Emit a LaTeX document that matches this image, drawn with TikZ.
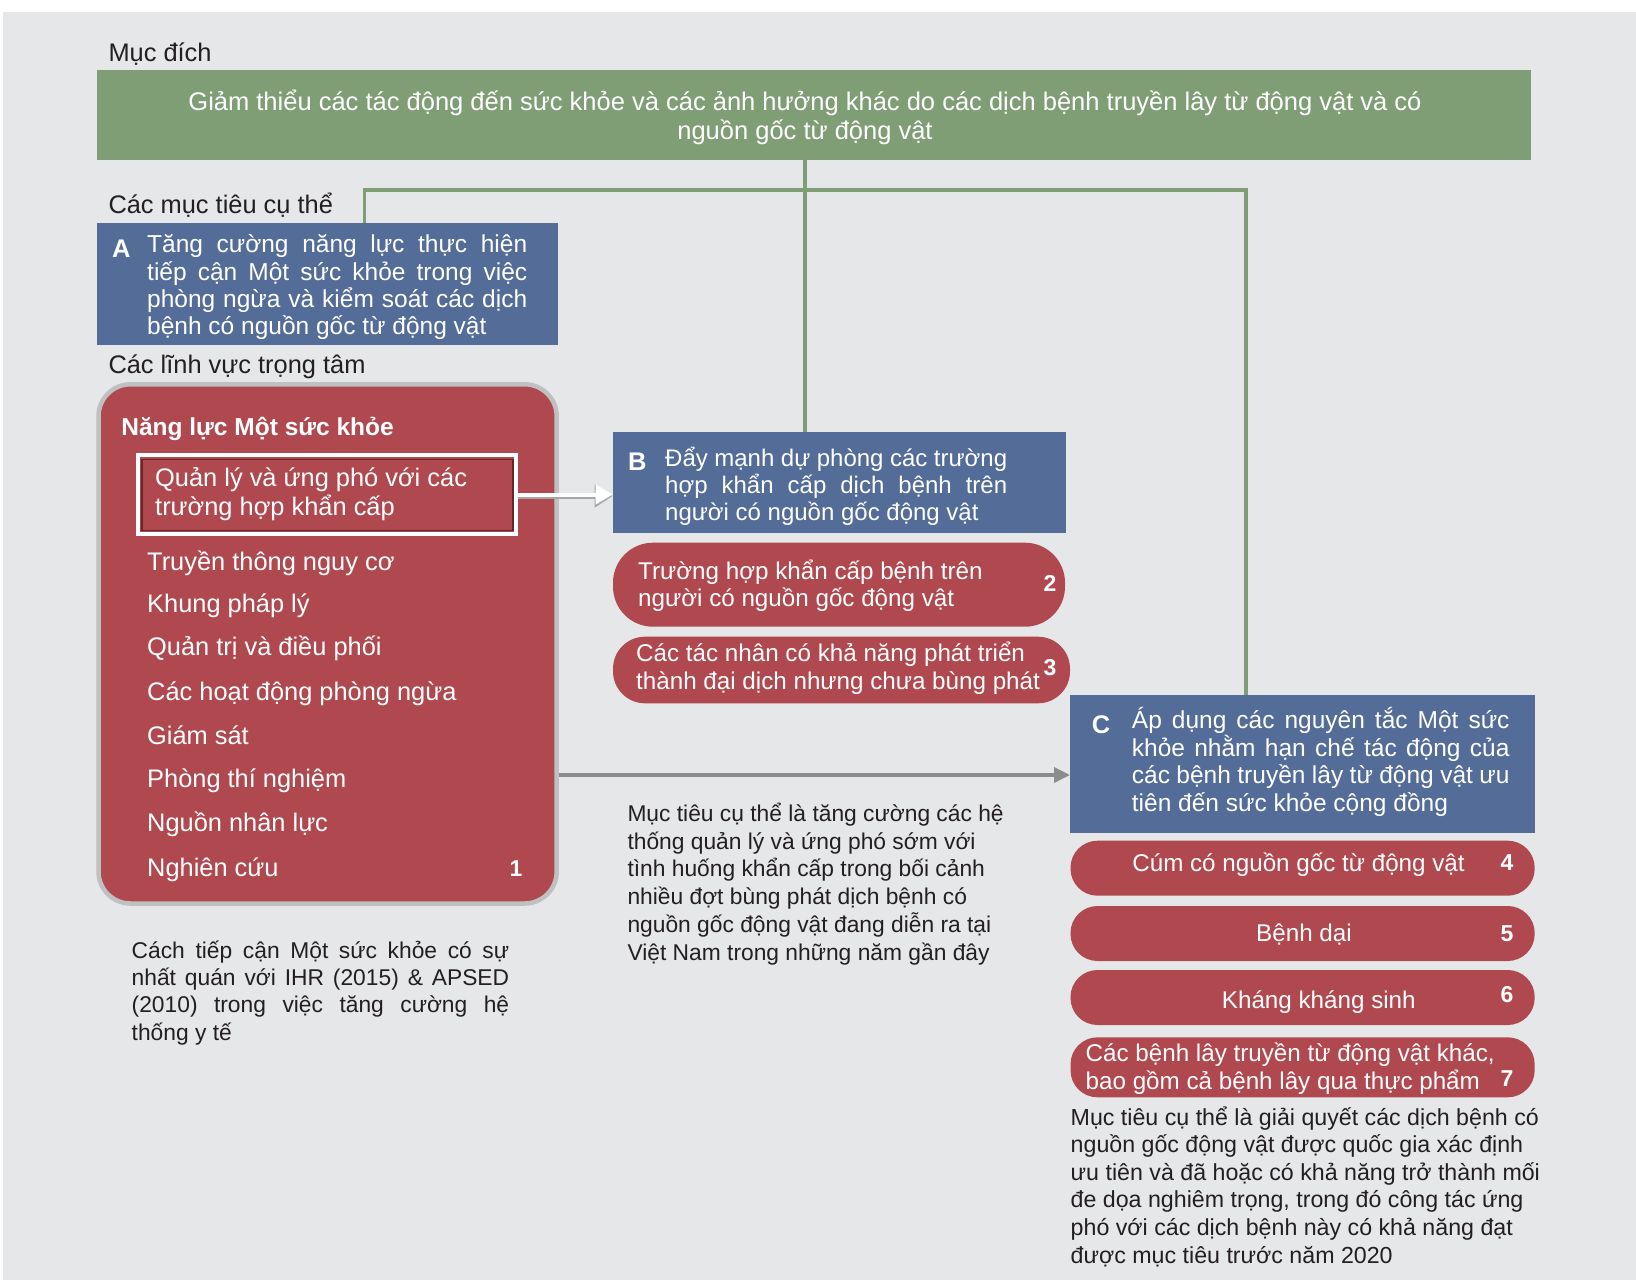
\documentclass[tikz,border=0pt]{standalone}
\usepackage{fontspec}
\setmainfont{Liberation Sans}
\usetikzlibrary{arrows.meta}
\definecolor{bgc}{HTML}{E6E7E9}
\definecolor{grn}{HTML}{7F9E75}
\definecolor{blu}{HTML}{546D98}
\definecolor{rd}{HTML}{B0494F}
\definecolor{outl}{HTML}{BFC0C2}
\definecolor{ink}{HTML}{231F20}
\definecolor{garr}{HTML}{8C8C8C}
\newcommand\fmain{\fontsize{24.5}{27.5}\selectfont}
\newcommand\flist{\fontsize{25.4}{28}\selectfont}
\newcommand\fpill{\fontsize{24.2}{27}\selectfont}
\newcommand\fnote{\fontsize{22.8}{27.6}\selectfont}
\newcommand\jl[2]{\makebox[#1][s]{#2}}
\tikzset{
  box/.style={anchor=north west, inner sep=0pt, outer sep=0pt, draw=none},
  lbl/.style={anchor=base west, inner sep=0pt, text=ink, font=\flist},
  wtxt/.style={anchor=base west, inner sep=0pt, text=white, font=\fmain},
  ltxt/.style={wtxt, font=\flist},
  ptxt/.style={wtxt, font=\fpill},
  num/.style={anchor=base, inner sep=0pt, text=white, font=\fontsize{23}{27}\selectfont\bfseries},
  letter/.style={anchor=base west, inner sep=0pt, text=white, font=\fontsize{25.5}{28}\selectfont\bfseries},
  note/.style={anchor=base west, inner sep=0pt, text=ink, font=\fnote},
  gline/.style={draw=grn, line width=3.5pt},
  pill/.style={box, fill=rd},
}
\begin{document}
\begin{tikzpicture}[x=1pt,y=-1pt]
\useasboundingbox (0,0) rectangle (1636,1280);
\fill[white] (0,0) rectangle (1636,1280);
\fill[bgc] (3,12) rectangle (1636,1280);

% goal
\node[lbl] (lgoal) at (108.3,61.5) {Mục đích};
\node[box, fill=grn, minimum width=1434pt, minimum height=90pt] (goal) at (97,70) {};
\node[wtxt, anchor=base, font=\fontsize{25.5}{29}\selectfont] (goal1) at (805,110.7) {Giảm thiểu các tác động đến sức khỏe và các ảnh hưởng khác do các dịch bệnh truyền lây từ động vật và có};
\node[wtxt, anchor=base, font=\fontsize{25.5}{29}\selectfont] (goal2) at (805,139.3) {nguồn gốc từ động vật};

% objective A
\node[lbl] (lspec) at (108.3,213.5) {Các mục tiêu cụ thể};
\node[box, fill=blu, minimum width=461pt, minimum height=122pt] (A) at (97,223) {};
\node[letter] (Aletter) at (112,257.3) {A};
\node[wtxt] (Atext) at (147,252.7) {\parbox[t]{380pt}{\baselineskip=27.4pt
  \jl{380pt}{Tăng cường năng lực thực hiện}\\
  \jl{380pt}{tiếp cận Một sức khỏe trong việc}\\
  \jl{380pt}{phòng ngừa và kiểm soát các dịch}\\
  bệnh có nguồn gốc từ động vật}};

% capacity box
\node[lbl] (lfocus) at (108.3,373.5) {Các lĩnh vực trọng tâm};
\node[box, fill=rd, draw=outl, line width=4.5pt, rounded corners=32pt, minimum width=458.2pt, minimum height=519.2pt] (cap) at (98.5,384.3) {};
\node[wtxt, font=\fmain\bfseries] (captitle) at (121.2,435) {Năng lực Một sức khỏe};
\node[draw=rd!55!black, line width=1.5pt, inner sep=0pt, outer sep=0pt, minimum width=371pt, minimum height=71pt] (qshadow) at (327.5,495) {};
\node[draw=white, line width=4pt, inner sep=0pt, minimum width=378.3pt, minimum height=78.4pt] (qbox) at (327.2,494.5) {};
\node[ltxt] (q1) at (155,486) {\parbox[t]{360pt}{\baselineskip=29.5pt Quản lý và ứng phó với các\\ trường hợp khẩn cấp}};
\node[ltxt] (i1) at (147,570.4) {Truyền thông nguy cơ};
\node[ltxt] (i2) at (147,612.8) {Khung pháp lý};
\node[ltxt] (i3) at (147,655.8) {Quản trị và điều phối};
\node[ltxt] (i4) at (147,700.6) {Các hoạt động phòng ngừa};
\node[ltxt] (i5) at (147,744.7) {Giám sát};
\node[ltxt] (i6) at (147,787.4) {Phòng thí nghiệm};
\node[ltxt] (i7) at (147,831.4) {Nguồn nhân lực};
\node[ltxt] (i8) at (147,876.2) {Nghiên cứu};
\node[num] (n1) at (516,876.2) {1};

% objective B
\node[box, fill=blu, minimum width=452.8pt, minimum height=100.5pt] (B) at (612.7,432) {};
\node[letter] (Bletter) at (628,470.5) {B};
\node[wtxt, font=\fontsize{24}{27}\selectfont] (Btext) at (665,466) {\parbox[t]{342pt}{\baselineskip=27pt
  \jl{342pt}{Đẩy mạnh dự phòng các trường}\\
  \jl{342pt}{hợp khẩn cấp dịch bệnh trên}\\
  người có nguồn gốc động vật}};
\node[pill, rounded corners=40pt, minimum width=452pt, minimum height=84pt] (p2) at (613,542.7) {};
\node[ptxt] (p2t) at (638,579.3) {\parbox[t]{400pt}{\baselineskip=26.7pt Trường hợp khẩn cấp bệnh trên\\ người có nguồn gốc động vật}};
\node[num] (n2) at (1050,591.7) {2};
\node[pill, rounded corners=32pt, minimum width=457pt, minimum height=66.6pt] (p3) at (613,636.7) {};
\node[ptxt] (p3t) at (636,661.7) {\parbox[t]{420pt}{\baselineskip=27.6pt Các tác nhân có khả năng phát triển\\ thành đại dịch nhưng chưa bùng phát}};
\node[num] (n3) at (1050,675) {3};

% objective C
\node[box, fill=blu, minimum width=465pt, minimum height=137.7pt] (C) at (1070,695) {};
\node[letter] (Cletter) at (1091.7,733.3) {C};
\node[wtxt] (Ctext) at (1131.7,728.3) {\parbox[t]{377.6pt}{\baselineskip=27.8pt
  \jl{377.6pt}{Áp dụng các nguyên tắc Một sức}\\
  \jl{377.6pt}{khỏe nhằm hạn chế tác động của}\\
  \jl{377.6pt}{các bệnh truyền lây từ động vật ưu}\\
  tiên đến sức khỏe cộng đồng}};
\node[pill, rounded corners=27pt, minimum width=464.2pt, minimum height=55pt] (p4) at (1070.5,840.7) {};
\node[ptxt, anchor=base] (p4t) at (1298.5,871.7) {Cúm có nguồn gốc từ động vật};
\node[num] (n4) at (1507,870) {4};
\node[pill, rounded corners=27pt, minimum width=464.2pt, minimum height=55pt] (p5) at (1070.5,906) {};
\node[ptxt, anchor=base] (p5t) at (1304,941.7) {Bệnh dại};
\node[num] (n5) at (1507,941.7) {5};
\node[pill, rounded corners=27pt, minimum width=464.2pt, minimum height=55pt] (p6) at (1070.5,970) {};
\node[ptxt, anchor=base] (p6t) at (1318.8,1008.3) {Kháng kháng sinh};
\node[num] (n6) at (1507,1002.7) {6};
\node[pill, rounded corners=27pt, minimum width=464.2pt, minimum height=60pt] (p7) at (1070.5,1037.3) {};
\node[ptxt] (p7t) at (1085.5,1061.7) {\parbox[t]{420pt}{\baselineskip=27.6pt Các bệnh lây truyền từ động vật khác,\\ bao gồm cả bệnh lây qua thực phẩm}};
\node[num] (n7) at (1507,1086) {7};

% notes
\node[note] (noteL) at (131.5,958.3) {\parbox[t]{377.5pt}{\baselineskip=27.3pt
  \jl{377.5pt}{Cách tiếp cận Một sức khỏe có sự}\\
  \jl{377.5pt}{nhất quán với IHR (2015) \& APSED}\\
  \jl{377.5pt}{(2010) trong việc tăng cường hệ}\\
  thống y tế}};
\node[note] (noteM) at (627.3,821.5) {\parbox[t]{420pt}{\baselineskip=27.7pt
  Mục tiêu cụ thể là tăng cường các hệ\\
  thống quản lý và ứng phó sớm với\\
  tình huống khẩn cấp trong bối cảnh\\
  nhiều đợt bùng phát dịch bệnh có\\
  nguồn gốc động vật đang diễn ra tại\\
  Việt Nam trong những năm gần đây}};
\node[note, font=\fontsize{23.2}{27.6}\selectfont] (noteR) at (1070.5,1125) {\parbox[t]{520pt}{\baselineskip=27.6pt
  Mục tiêu cụ thể là giải quyết các dịch bệnh có\\
  nguồn gốc động vật được quốc gia xác định\\
  ưu tiên và đã hoặc có khả năng trở thành mối\\
  đe dọa nghiêm trọng, trong đó công tác ứng\\
  phó với các dịch bệnh này có khả năng đạt\\
  được mục tiêu trước năm 2020}};

% connectors
\coordinate (trunk) at (805,160);
\coordinate (hl) at (364.5,190);
\coordinate (hr) at (1246,190);
\draw[gline] (trunk) -- (trunk |- B.north);
\draw[gline] (hl |- A.north) -- (hl) -- (hr) -- (hr |- C.north);
\draw[draw=black!35, line width=5pt, -{Triangle[length=18pt,width=22pt]}] ([yshift=-1.5pt]qbox.east) -- ([yshift=-1.5pt]qbox.east -| B.west);
\draw[draw=white, line width=4pt, -{Triangle[length=17pt,width=19pt]}] (qbox.east) -- (qbox.east -| B.west);
\coordinate (gs) at (559,775);
\draw[draw=garr, line width=3.5pt, -{Triangle[length=16pt,width=15pt]}] (gs) -- (gs -| C.west);
\end{tikzpicture}
\end{document}
